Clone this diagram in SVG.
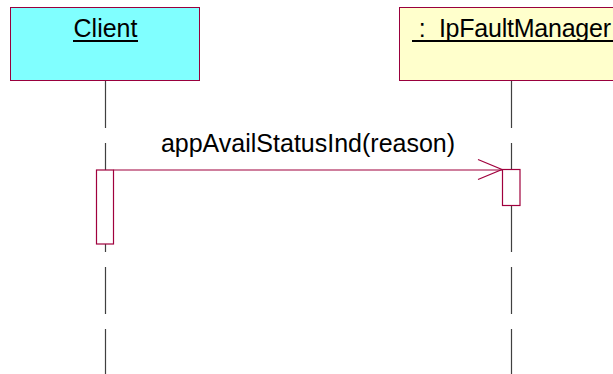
<svg xmlns="http://www.w3.org/2000/svg" width="613" height="374" viewBox="0 0 613 374">
<style>
.obj{stroke:#99003d;stroke-width:1}
.life{stroke:#404040;stroke-width:1.2;stroke-dasharray:47 15;fill:none}
.act{fill:#ffffff;stroke:#a0003d;stroke-width:1.2}
.msg{stroke:#a0003d;stroke-width:1.2;fill:none}
.lbl{font-family:"Liberation Sans",Arial,sans-serif;font-size:25px;fill:#000}
.ul{stroke:#000;stroke-width:2}
</style>
<rect width="613" height="374" fill="#ffffff"/>
<g id="client">
<rect class="obj" x="10.5" y="7.5" width="189" height="73" fill="#80ffff"/>
<text class="lbl" x="105.5" y="37" text-anchor="middle">Client</text>
<line class="ul" x1="73" y1="41" x2="138" y2="41"/>
</g>
<g id="faultmanager">
<rect class="obj" x="399.5" y="7.5" width="230" height="73" fill="#ffffcc"/>
<text class="lbl" x="412" y="37" xml:space="preserve" textLength="199" lengthAdjust="spacing"> :  IpFaultManager</text>
<line class="ul" x1="412" y1="41" x2="613" y2="41"/>
</g>
<g id="lifelines">
<line class="life" x1="105.5" y1="81" x2="105.5" y2="374"/>
<line class="life" x1="511.5" y1="81" x2="511.5" y2="374"/>
</g>
<g id="activation-client">
<rect class="act" x="96.5" y="170" width="17" height="74"/>
</g>
<g id="activation-fm">
<rect class="act" x="502.5" y="169.5" width="17.5" height="36"/>
</g>
<g id="connectors">
<line class="msg" x1="113.5" y1="170" x2="502" y2="170"/>
<polyline class="msg" points="478,159.5 502,169.5 478,179.5" stroke-width="1.5"/>
<text class="lbl" x="308" y="152" text-anchor="middle">appAvailStatusInd(reason)</text>
</g>
</svg>
